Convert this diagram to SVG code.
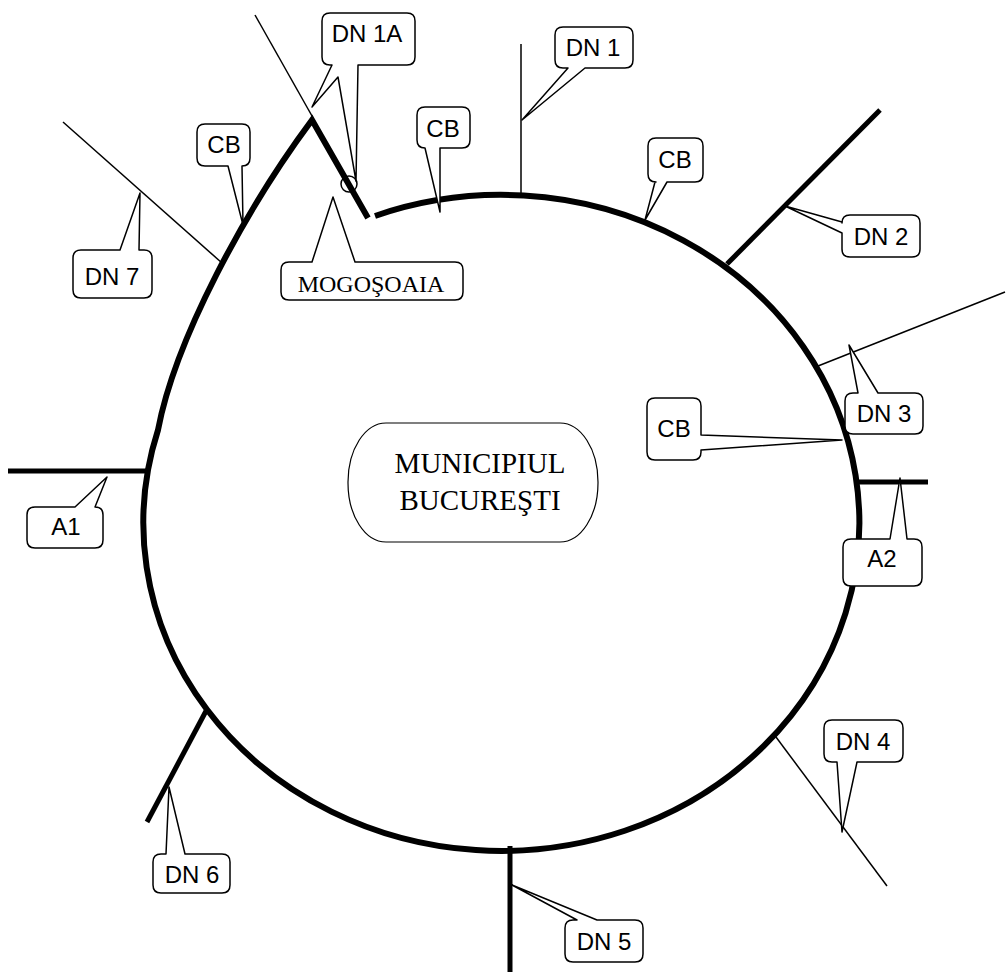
<svg xmlns="http://www.w3.org/2000/svg" width="1007" height="972" viewBox="0 0 1007 972">
<style>
.ring{fill:none;stroke:#000;stroke-width:6;stroke-linejoin:miter;stroke-miterlimit:10}
.road{fill:none;stroke:#000;stroke-width:5}
.thin{fill:none;stroke:#000;stroke-width:1.5}
.callout{fill:#fff;stroke:#000;stroke-width:1.5;stroke-linejoin:round}
.lbl{font-family:"Liberation Sans",Arial,sans-serif;font-size:24px;text-anchor:middle;fill:#000}
.serif{font-family:"Liberation Serif","Times New Roman",serif;text-anchor:middle;fill:#000}
</style>
<rect width="1007" height="972" fill="#fff"/>
<g id="connectors">
<line class="thin" x1="255" y1="15" x2="312" y2="116"/>
<line class="thin" x1="521" y1="44" x2="521" y2="193"/>
<line class="road" x1="727" y1="264" x2="880" y2="110"/>
<line class="thin" x1="818" y1="366" x2="1005" y2="292"/>
<line class="road" x1="857" y1="482" x2="928" y2="482"/>
<line class="thin" x1="773" y1="733" x2="887" y2="886"/>
<line class="road" x1="510" y1="846" x2="510" y2="972"/>
<line class="road" x1="206" y1="711" x2="147" y2="822"/>
<line class="road" x1="8" y1="471" x2="148" y2="471"/>
<line class="thin" x1="63" y1="122" x2="222" y2="263"/>
</g>
<g id="ring">
<path class="ring" d="M375,216 A358,328 0 1 1 158,430 C175,340 245,210 312,120 L368,218"/>
<circle class="thin" cx="349" cy="184" r="8"/>
</g>
<g id="center">
<rect x="348" y="423" width="250" height="119" rx="38" ry="59" fill="#fff" stroke="#000" stroke-width="1.2"/>
<text class="serif" x="480" y="473" font-size="29">MUNICIPIUL</text>
<text class="serif" x="480" y="510" font-size="29">BUCUREŞTI</text>
</g>
<g id="dn1a">
<path class="callout" d="M332,65 L312,107 L338,77 L356,181 L358,65 H407 Q415,65 415,57 V21 Q415,13 407,13 H330 Q322,13 322,21 V57 Q322,65 330,65 Z"/>
<text class="lbl" x="367" y="42">DN 1A</text>
</g>
<g id="mogosoaia">
<path class="callout" d="M312,262 L333,197 L355,262 H455 Q463,262 463,270 V292 Q463,300 455,300 H289 Q281,300 281,292 V270 Q281,262 289,262 Z"/>
<text class="serif" x="371" y="292" font-size="24">MOGOŞOAIA</text>
</g>
<g id="cb1">
<path class="callout" d="M242,166 L243,225 L228,166 H205 Q197,166 197,158 V132 Q197,124 205,124 H242 Q250,124 250,132 V158 Q250,166 242,166 Z"/>
<text class="lbl" x="224" y="153">CB</text>
</g>
<g id="dn7">
<path class="callout" d="M120,250 L140,193 L139,250 H144 Q152,250 152,258 V290 Q152,298 144,298 H81 Q73,298 73,290 V258 Q73,250 81,250 Z"/>
<text class="lbl" x="112" y="285">DN 7</text>
</g>
<g id="cb2">
<path class="callout" d="M425,148 L440,212 L440,148 H462 Q470,148 470,140 V115 Q470,107 462,107 H425 Q417,107 417,115 V140 Q417,148 425,148 Z"/>
<text class="lbl" x="443" y="137">CB</text>
</g>
<g id="dn1">
<path class="callout" d="M568,68 L522,120 L585,68 H625 Q633,68 633,60 V35 Q633,27 625,27 H563 Q555,27 555,35 V60 Q555,68 563,68 Z"/>
<text class="lbl" x="593" y="56">DN 1</text>
</g>
<g id="cb3">
<path class="callout" d="M655,182 L645,220 L667,182 H695 Q703,182 703,174 V146 Q703,138 695,138 H656 Q648,138 648,146 V174 Q648,182 656,182 Z"/>
<text class="lbl" x="675" y="168">CB</text>
</g>
<g id="dn2">
<path class="callout" d="M842,222 L785,206 L842,233 V249 Q842,257 850,257 H912 Q920,257 920,249 V223 Q920,215 912,215 H850 Q842,215 842,223 Z"/>
<text class="lbl" x="881" y="245">DN 2</text>
</g>
<g id="dn3">
<path class="callout" d="M858,393 L849,345 L878,393 H915 Q923,393 923,401 V426 Q923,434 915,434 H853 Q845,434 845,426 V401 Q845,393 853,393 Z"/>
<text class="lbl" x="884" y="422">DN 3</text>
</g>
<g id="cb4">
<path class="callout" d="M701,435 L842,440 L701,450 V452 Q701,460 693,460 H655 Q647,460 647,452 V406 Q647,398 655,398 H693 Q701,398 701,406 Z"/>
<text class="lbl" x="674" y="437">CB</text>
</g>
<g id="a2">
<path class="callout" d="M890,539 L900,478 L907,539 H914 Q922,539 922,547 V578 Q922,586 914,586 H851 Q843,586 843,578 V547 Q843,539 851,539 Z"/>
<text class="lbl" x="882" y="567">A2</text>
</g>
<g id="a1">
<path class="callout" d="M75,507 L107,477 L95,507 Q103,507 103,515 V540 Q103,548 95,548 H35 Q27,548 27,540 V515 Q27,507 35,507 Z"/>
<text class="lbl" x="66" y="535">A1</text>
</g>
<g id="dn6">
<path class="callout" d="M166,854 L169,787 L185,854 H222 Q230,854 230,862 V885 Q230,893 222,893 H161 Q153,893 153,885 V862 Q153,854 161,854 Z"/>
<text class="lbl" x="192" y="883">DN 6</text>
</g>
<g id="dn5">
<path class="callout" d="M577,920 L512,885 L597,920 H635 Q643,920 643,928 V954 Q643,962 635,962 H573 Q565,962 565,954 V928 Q565,920 573,920 Z"/>
<text class="lbl" x="604" y="950">DN 5</text>
</g>
<g id="dn4">
<path class="callout" d="M837,762 L842,832 L857,762 H895 Q903,762 903,754 V728 Q903,720 895,720 H832 Q824,720 824,728 V754 Q824,762 832,762 Z"/>
<text class="lbl" x="863" y="750">DN 4</text>
</g>
</svg>
